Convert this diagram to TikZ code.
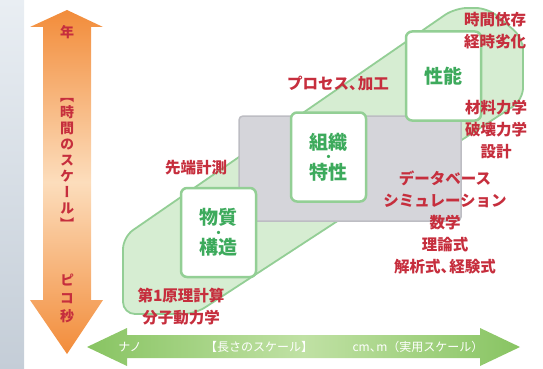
\documentclass[tikz,border=0pt]{standalone}
\usepackage{fontspec}
\setmainfont{Noto Sans CJK JP}
\newfontfamily\jpv{Noto Sans CJK JP}[RawFeature=+vert]
\definecolor{cred}{HTML}{C62E3D}
\definecolor{txtgreen}{HTML}{3DAA5C}
\definecolor{boxgreen}{HTML}{93CF95}
\definecolor{bandfill}{HTML}{D6EDD2}
\definecolor{bandline}{HTML}{93CE95}
\definecolor{grayfill}{HTML}{D5D5DA}
\definecolor{grayline}{HTML}{BDBDC3}
\definecolor{ortop}{HTML}{F28C3A}
\definecolor{ormid}{HTML}{FCDDBC}
\definecolor{grarrow}{HTML}{88C462}
\definecolor{grarrowmid}{HTML}{C0E1A4}
\definecolor{stripa}{HTML}{E9EEF3}
\definecolor{stripb}{HTML}{C4CDD7}
\newcommand\boxfont{\fontsize{19}{15}\selectfont\bfseries\lineskiplimit=-30pt}
\newcommand\boxdot{{\fontsize{12}{15}\selectfont\raisebox{2.6pt}{・}}}
\newcommand\redfont{\fontsize{15.5}{22}\selectfont\bfseries}
\newcommand\vfont{\jpv\fontsize{14}{16}\selectfont\bfseries\lineskiplimit=-30pt}
\newcommand\tou{、\kern-.45em}
\begin{document}
\begin{tikzpicture}[x=1pt,y=-1pt,
  redtxt/.style={text=cred, font=\redfont, inner sep=0pt, align=center},
  boxnode/.style={draw=boxgreen, line width=2.5pt, fill=white, rounded corners=6pt,
    minimum width=75pt, minimum height=89pt, text=txtgreen, font=\boxfont,
    align=center, inner sep=0pt},
  vtxt/.style={text=cred, font=\vfont, inner sep=0pt, align=center},
  wtxt/.style={text=white, font=\fontsize{12}{13}\selectfont, inner sep=0pt},
]
\useasboundingbox (0,0) rectangle (543,369);
% left strip
\shade[top color=stripa, bottom color=stripb] (0,0) rectangle (24,369);
% green band
\draw[fill=bandfill, draw=bandline, line width=1.8pt, rounded corners=12pt]
  (123,237) -- (455,8) -- (488,8) -- (523,38) -- (523,100) -- (195,314) -- (123,314) -- cycle;
% gray rectangle
\draw[fill=grayfill, draw=grayline, line width=1.5pt, rounded corners=4pt]
  (239,116) rectangle (461,221);
% boxes
\node[boxnode] (b1) at (218.5,232.5) {物質\\\boxdot\\構造};
\node[boxnode] (b2) at (328.5,157) {組織\\\boxdot\\特性};
\node[boxnode] (b3) at (443.5,76) {性能};
% red labels
\node[redtxt] (t1) at (495,31) {時間依存\\経時劣化};
\node[redtxt] (t2) at (338,84) {プロセス\tou 加工};
\node[redtxt] (t3) at (496,130) {材料力学\\破壊力学\\設計};
\node[redtxt] (t4) at (196,168) {先端計測};
\node[redtxt] (t5) at (445,222) {データベース\\シミュレーション\\数学\\理論式\\解析式\tou 経験式};
\node[redtxt] (t6) at (181,307) {第1原理計算\\分子動力学};
% orange vertical arrow
\coordinate (otop) at (67,10);
\coordinate (obot) at (67,354);
\shade[top color=ortop, bottom color=ortop, middle color=ormid]
  (otop) -- (103,27) -- (91,27) -- (91,300) -- (103,300) -- (obot)
  -- (30,300) -- (43,300) -- (43,27) -- (30,27) -- cycle;
\node[vtxt] (y1) at (67,32) {年};
\node[vtxt] (y2) at (67,164) {【\\時\\間\\の\\ス\\ケ\\ー\\ル\\】};
\node[vtxt, font=\jpv\fontsize{14}{18}\selectfont\bfseries] (y3) at (67,298) {ピ\\コ\\秒};
% green horizontal arrow
\coordinate (gl) at (87,347);
\coordinate (gr) at (520,347);
\shade[left color=grarrow, right color=grarrow, middle color=grarrowmid]
  (gl) -- (127,328) -- (127,335) -- (480,335) -- (480,328) -- (gr)
  -- (480,366) -- (480,358) -- (127,358) -- (127,366) -- cycle;
\node[wtxt] (x1) at (130,347) {ナノ};
\node[wtxt] (x2) at (259,347) {【長さのスケール】};
\node[wtxt] (x3) at (418,347) {cm\tou m（実用スケール）};
\end{tikzpicture}
\end{document}
